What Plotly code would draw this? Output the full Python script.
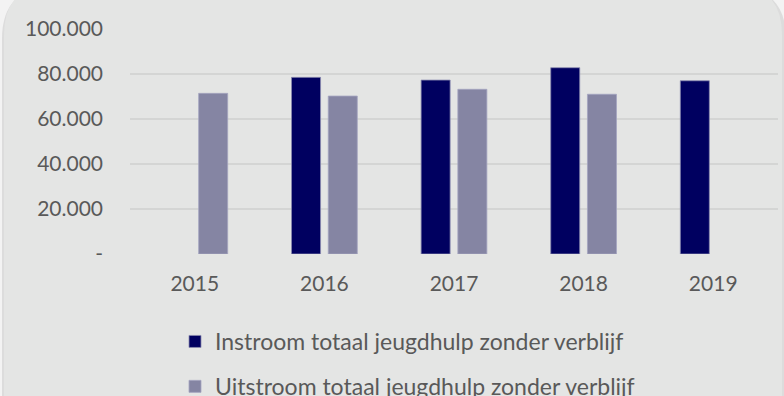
import plotly.graph_objects as go

# Jeugdhulp zonder verblijf: instroom en uitstroom per jaar
years = ["2015", "2016", "2017", "2018", "2019"]
instroom = [None, 78500, 77300, 82800, 77000]
uitstroom = [71400, 70200, 73200, 71000, None]

y_tickvals = [0, 20000, 40000, 60000, 80000, 100000]
y_ticktext = ["-", "20.000", "40.000", "60.000", "80.000", "100.000"]

W, H = 784, 396
L, R, T, B = 130, 6, 29, 142
PW, PH = W - L - R, H - T - B

panel_fill = "#E4E5E4"
text_col = "#595959"
font_family = "Lato, Open Sans, sans-serif"
fs = 21


def fx(x):
    return (x - L) / PW


def fy(y):
    return (H - B - y) / PH


def rounded_panel(x0, y0, x1, y1, r):
    return (
        f"M {fx(x0)},{fy(y1)} "
        f"L {fx(x0)},{fy(y0 + r)} "
        f"Q {fx(x0)},{fy(y0)} {fx(x0 + r)},{fy(y0)} "
        f"L {fx(x1 - r)},{fy(y0)} "
        f"Q {fx(x1)},{fy(y0)} {fx(x1)},{fy(y0 + r)} "
        f"L {fx(x1)},{fy(y1)} Z"
    )


fig = go.Figure()
fig.add_trace(go.Bar(
    x=years, y=instroom, name="Instroom totaal jeugdhulp zonder verblijf",
    marker=dict(color="#000060", line=dict(color="#8A8AB0", width=0.8)),
    legendgroup="in",
))
fig.add_trace(go.Bar(
    x=years, y=uitstroom, name="Uitstroom totaal jeugdhulp zonder verblijf",
    marker=dict(color="#8585A3", line=dict(color="#A5A5C0", width=0.8)),
    legendgroup="uit",
))

shapes = [
    dict(type="path", xref="paper", yref="paper", layer="below",
         path=rounded_panel(2, -13, 786, 420, 52),
         fillcolor="#DCDCDC", line=dict(width=0)),
    dict(type="path", xref="paper", yref="paper", layer="below",
         path=rounded_panel(4, -15, 782, 420, 50),
         fillcolor=panel_fill, line=dict(width=0)),
]

fig.update_layout(
    width=W, height=H,
    margin=dict(l=L, r=R, t=T, b=B, autoexpand=False),
    paper_bgcolor="#F3F3F3",
    plot_bgcolor="rgba(0,0,0,0)",
    barmode="group",
    bargap=0.433,
    bargroupgap=0.21,
    shapes=shapes,
    font=dict(family=font_family, size=fs, color=text_col),
    showlegend=True,
    legend=dict(
        orientation="v", x=fx(175), xanchor="left", y=fy(320), yanchor="top",
        bgcolor="rgba(0,0,0,0)", font=dict(size=23, color=text_col),
        tracegroupgap=12, itemclick=False,
    ),
    xaxis=dict(
        type="category", showgrid=False, zeroline=False, showline=False,
        ticks="", ticklabelstandoff=15, automargin=False,
        tickfont=dict(size=fs, color=text_col),
    ),
    yaxis=dict(
        range=[0, 100000], tickvals=y_tickvals, ticktext=y_ticktext,
        showgrid=True, gridcolor="#D4D5D4", gridwidth=1.5,
        zeroline=False, showline=False, ticks="", ticklabelstandoff=26,
        automargin=False, tickfont=dict(size=fs, color=text_col),
    ),
)

fig.write_html("out.html")
